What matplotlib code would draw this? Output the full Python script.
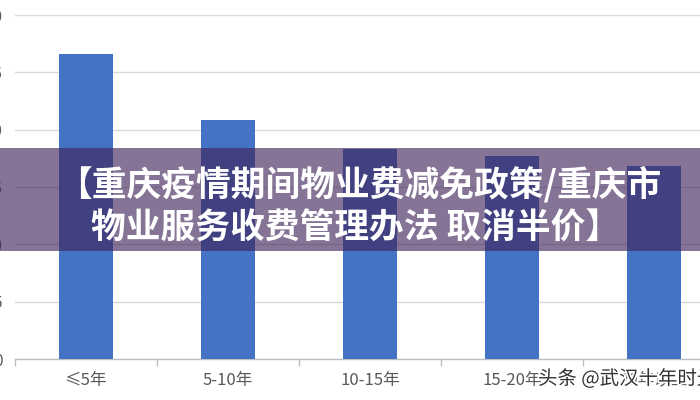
import matplotlib

matplotlib.use("Agg")
import matplotlib.patheffects as pe
import matplotlib.pyplot as plt
from matplotlib.patches import Rectangle

plt.rcParams["font.family"] = ["Noto Sans CJK SC", "DejaVu Sans"]

# data
categories = ["≤5年", "5-10年", "10-15年", "15-20年", "20年以上"]
values = [26.6, 20.8, 18.3, 17.7, 16.8]
y_ticks = [0, 5, 10, 15, 20, 25, 30]

title_line1 = "【重庆疫情期间物业费减免政策/重庆市"
title_line2 = "物业服务收费管理办法 取消半价】"
watermark = "头条 @武汉十年时光"


def main():
    fig = plt.figure(figsize=(7, 4), dpi=100)
    fig.patch.set_facecolor("white")

    # axes start a little in from the left, right edge cuts the last bar
    ax = fig.add_axes([15 / 700, 41 / 400, 685 / 700, 344 / 400])
    x = list(range(len(categories)))
    ax.bar(x, values, width=0.38, color="#4472C4", zorder=3)

    ax.set_yticks(y_ticks)
    ax.set_yticklabels([str(v) for v in y_ticks])
    ax.grid(axis="y", color="#d9d9d9", linewidth=1.0, zorder=0)

    ax.set_xticks(x)
    ax.set_xticklabels(categories)
    ax.set_xticks([i - 0.5 for i in range(len(categories) + 1)], minor=True)
    # limits after the ticks, set_xticks would widen them
    ax.set_xlim(-0.5, 4.324)
    ax.set_ylim(0, 30)

    ax.tick_params(axis="x", which="major", length=0, pad=9, labelsize=12, labelcolor="#595959")
    ax.tick_params(axis="x", which="minor", length=5, color="#bfbfbf", width=1)
    ax.tick_params(axis="y", length=0, pad=9, labelsize=11, labelcolor="#595959")

    for side in ["top", "right", "left"]:
        ax.spines[side].set_visible(False)
    ax.spines["bottom"].set_color("#bfbfbf")
    ax.spines["bottom"].set_linewidth(1.0)

    # translucent banner across the middle
    fig.patches.append(
        Rectangle(
            (0, 1 - 251 / 400),
            1,
            103 / 400,
            transform=fig.transFigure,
            facecolor="#40265B",
            alpha=0.64,
            edgecolor="none",
            zorder=5,
        )
    )

    fig.text(0.513, 1 - 184 / 400, title_line1, color="white", fontsize=25,
             fontweight="black", ha="center", va="center", zorder=6)
    fig.text(0.508, 1 - 228 / 400, title_line2, color="white", fontsize=25,
             fontweight="black", ha="center", va="center", zorder=6)

    fig.text(538 / 700, 1 - 379 / 400, watermark, color="#333333", fontsize=14,
             ha="left", va="center", zorder=7,
             path_effects=[pe.withStroke(linewidth=2.5, foreground="white")])

    fig.savefig("out.png", dpi=100)


if __name__ == "__main__":
    main()
